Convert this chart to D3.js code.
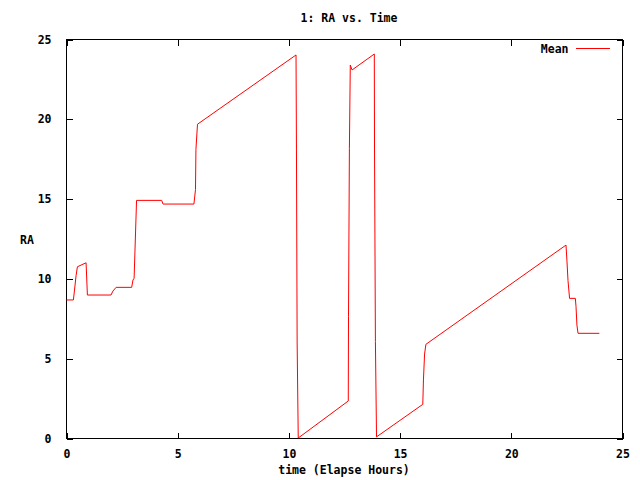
<!DOCTYPE html>
<html>
<head>
<meta charset="utf-8">
<script src="https://cdn.jsdelivr.net/npm/d3@7"></script>
<style>
  body { margin: 0; background: #fff; }
  text { font-family: "DejaVu Sans Mono", monospace; font-size: 11.5px; font-weight: bold; fill: #000; }
</style>
</head>
<body>
<div id="chart"></div>
<script>
// data: elapsed hours and mean RA
var hours = [0, 0.31, 0.36, 0.43, 0.49, 0.88, 0.94, 2.0, 2.09, 2.23, 2.93, 2.99, 3.04, 3.15, 4.28, 4.34, 5.73, 5.8, 5.82, 5.89,
             10.32, 10.34, 10.37, 10.42, 12.67, 12.68, 12.72, 12.76, 12.84, 13.84, 13.85, 13.89, 13.94,
             16.02, 16.05, 16.1, 16.16, 22.46, 22.5, 22.55, 22.62, 22.88, 22.91, 22.95, 23.0, 23.96];
var ra = [8.68, 8.68, 9.3, 10.2, 10.76, 11.01, 8.99, 8.99, 9.24, 9.47, 9.47, 9.93, 10.04, 14.92, 14.92, 14.69, 14.69, 15.6, 18.1, 19.69,
          24.03, 18.08, 6.05, 0.03, 2.35, 7.63, 18.18, 23.4, 23.09, 24.09, 18.08, 6.07, 0.1,
          2.14, 3.67, 5.29, 5.9, 12.12, 11.18, 9.89, 8.78, 8.78, 8.26, 7.11, 6.59, 6.59];
var xTicks = [0, 5, 10, 15, 20, 25];
var yTicks = [0, 5, 10, 15, 20, 25];

var svg_w = 640, svg_h = 480;
var margin = {top: 39.5, right: 17.5, bottom: 41.5, left: 66.5};
var width = svg_w - margin.left - margin.right;
var height = svg_h - margin.top - margin.bottom;

var svg = d3.select("#chart").append("svg")
    .attr("width", svg_w)
    .attr("height", svg_h);

var g = svg.append("g")
    .attr("transform", "translate(" + margin.left + "," + margin.top + ")");

var x = d3.scaleLinear().domain([0, 25]).range([0, width]);
var y = d3.scaleLinear().domain([0, 25]).range([height, 0]);

//axes with inward ticks on all four sides
function styleAxis(sel) {
  sel.select(".domain").remove();
  sel.selectAll("line").attr("stroke", "#000").attr("shape-rendering", "crispEdges");
  sel.selectAll("text").style("font-family", null).style("font-size", null);
}
g.append("g").attr("transform", "translate(0," + height + ")")
  .call(d3.axisBottom(x).tickValues(xTicks).tickSizeInner(-6).tickPadding(11))
  .call(styleAxis);
g.append("g")
  .call(d3.axisTop(x).tickValues(xTicks).tickSizeInner(-6).tickFormat(""))
  .call(styleAxis);
g.append("g")
  .call(d3.axisLeft(y).tickValues(yTicks).tickSizeInner(-6).tickPadding(15))
  .call(styleAxis);
g.append("g").attr("transform", "translate(" + width + ",0)")
  .call(d3.axisRight(y).tickValues(yTicks).tickSizeInner(-6).tickFormat(""))
  .call(styleAxis);

g.append("rect")
  .attr("width", width).attr("height", height)
  .attr("fill", "none").attr("stroke", "#000")
  .attr("shape-rendering", "crispEdges");

//the line
var pts = hours.map(function(h, i) { return [h, ra[i]]; });
g.append("path")
  .datum(pts)
  .attr("fill", "none")
  .attr("stroke", "#ff0000")
  .attr("stroke-width", 1)
  .attr("d", d3.line().x(function(d) { return x(d[0]); }).y(function(d) { return y(d[1]); }));

//legend
g.append("text").attr("x", 502).attr("y", 9.5).attr("dy", "0.35em")
  .attr("text-anchor", "end").text("Mean");
g.append("line").attr("x1", 509).attr("x2", 543).attr("y1", 8.5).attr("y2", 8.5)
  .attr("stroke", "#ff0000").attr("shape-rendering", "crispEdges");

//title and labels
svg.append("text").attr("x", 349).attr("y", 22).attr("text-anchor", "middle").text("1: RA vs. Time");
svg.append("text").attr("x", 344).attr("y", 474).attr("text-anchor", "middle").text("time (Elapse Hours)");
svg.append("text").attr("x", 27).attr("y", 244).attr("text-anchor", "middle").text("RA");
</script>
</body>
</html>
